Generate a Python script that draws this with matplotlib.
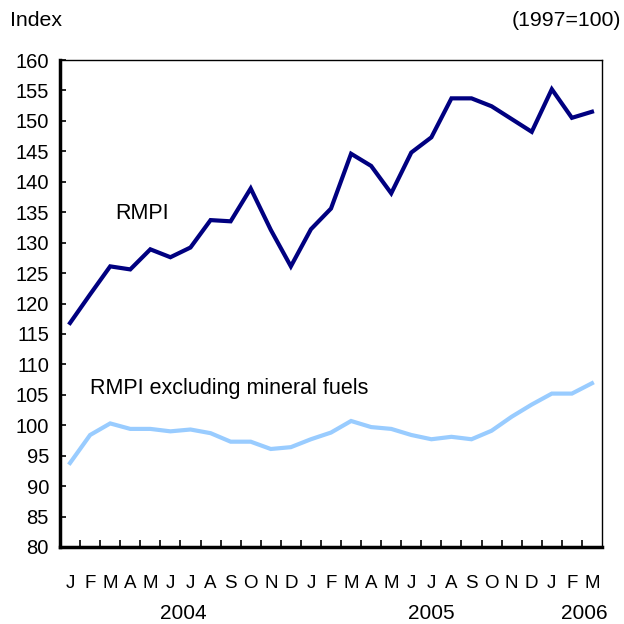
import numpy as np
import matplotlib
matplotlib.use("Agg")
import matplotlib.pyplot as plt

plt.rcParams['font.family'] = ['Liberation Sans', 'DejaVu Sans']

months = ["J", "F", "M", "A", "M", "J", "J", "A", "S", "O", "N", "D",
          "J", "F", "M", "A", "M", "J", "J", "A", "S", "O", "N", "D",
          "J", "F", "M"]
years = ["2004", "2005", "2006"]

rmpi = [116.8, 121.5, 126.1, 125.6, 128.9, 127.6, 129.2, 133.7, 133.5, 138.9, 132.1, 126.1,
        132.2, 135.6, 144.6, 142.6, 138.1, 144.8, 147.3, 153.7, 153.7, 152.4, 150.3, 148.2,
        155.2, 150.5, 151.5]
rmpi_ex_fuels = [93.8, 98.4, 100.3, 99.4, 99.4, 99.0, 99.3, 98.7, 97.3, 97.3, 96.1, 96.4,
                 97.7, 98.8, 100.7, 99.7, 99.4, 98.4, 97.7, 98.1, 97.7, 99.1, 101.4, 103.4,
                 105.2, 105.2, 106.9]

x = np.arange(len(months))

fig = plt.figure(figsize=(6.24, 6.24), dpi=100)
ax = fig.add_axes([60/624, 77/624, 542/624, 487/624])

ax.plot(x, rmpi, color="#000080", lw=3.0, solid_joinstyle="miter")
ax.plot(x, rmpi_ex_fuels, color="#99CCFF", lw=3.0, solid_joinstyle="miter")

ax.set_xlim(-0.5, len(months) - 0.5)
ax.set_ylim(80, 160)
ax.set_yticks(np.arange(80, 161, 5))
ax.tick_params(axis="y", direction="in", length=4, width=1.2, labelsize=14.5, pad=8)

# month labels at centres, tick marks at boundaries
ax.set_xticks(x)
ax.set_xticklabels(months, fontsize=13.5)
ax.tick_params(axis="x", which="major", length=0, pad=20)
ax.set_xticks(np.arange(0.5, len(months) - 1, 1), minor=True)
ax.tick_params(axis="x", which="minor", direction="in", length=5, width=1.2)

for side in ["left", "bottom"]:
    ax.spines[side].set_linewidth(2.5)
for side in ["top", "right"]:
    ax.spines[side].set_linewidth(1.0)

year_pos = [5.65, 18.0, 25.6]
for yp, yr in zip(year_pos, years):
    ax.text(yp, -0.137, yr, transform=ax.get_xaxis_transform(), ha="center", va="center", fontsize=15)

ax.text(2.25, 134.8, "RMPI", fontsize=15.5, ha="left", va="center")
ax.text(1.0, 106.0, "RMPI excluding mineral fuels", fontsize=15.5, ha="left", va="center")

fig.text(10/624, 1 - 20/624, "Index", fontsize=15.3, ha="left", va="center")
fig.text(621/624, 1 - 20/624, "(1997=100)", fontsize=15.3, ha="right", va="center")

fig.savefig("out.png", dpi=100)
